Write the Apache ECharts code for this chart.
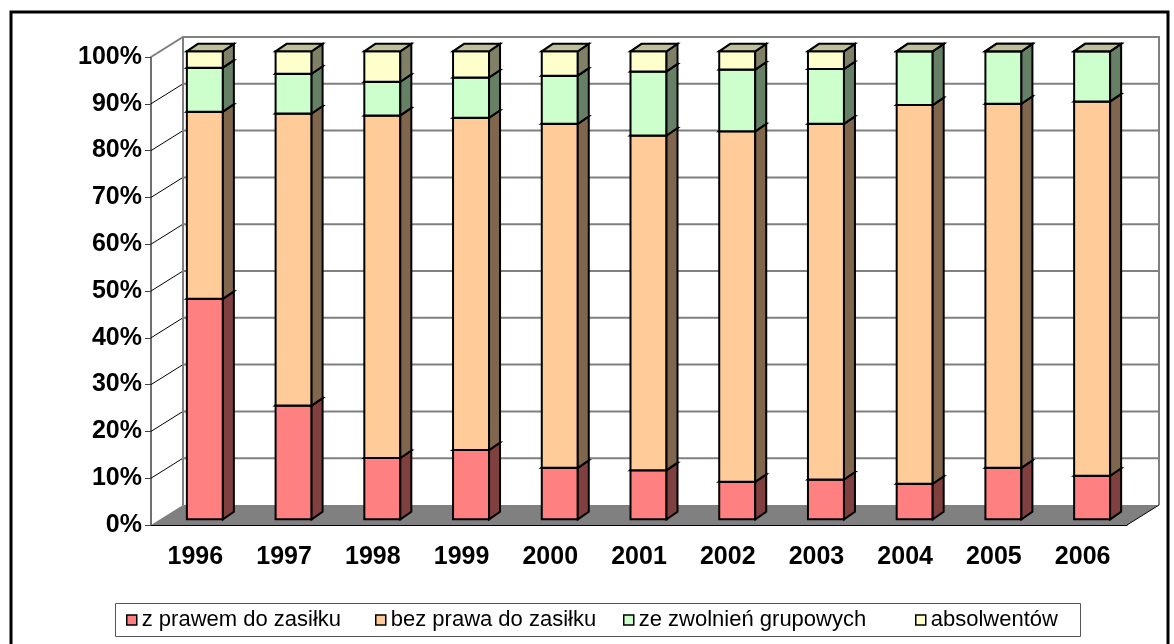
<!DOCTYPE html>
<html>
<head>
<meta charset="utf-8">
<script src="https://cdn.jsdelivr.net/npm/echarts@6/dist/echarts.min.js"></script>
<style>
  html, body { margin: 0; padding: 0; background: #fff; }
  #chart { width: 1174px; height: 644px; }
</style>
</head>
<body>
<div id="chart"></div>
<script>
// Struktura bezrobotnych 1996-2006 (udział procentowy grup)
const years = ['1996', '1997', '1998', '1999', '2000', '2001', '2002', '2003', '2004', '2005', '2006'];
const seriesNames = ['z prawem do zasiłku', 'bez prawa do zasiłku', 'ze zwolnień grupowych', 'absolwentów'];
const zPrawem     = [47.1, 24.3, 13.1, 14.8, 11.0, 10.5,  8.0,  8.5,  7.6, 11.0,  9.3];
const bezPrawa    = [40.0, 62.4, 73.2, 71.0, 73.5, 71.5, 74.9, 76.0, 80.9, 77.8, 80.0];
const zwolnien    = [ 9.4,  8.5,  7.2,  8.6, 10.3, 13.7, 13.2, 11.7, 11.5, 11.2, 10.7];
const absolwentow = [ 3.5,  4.8,  6.5,  5.6,  5.2,  4.3,  3.9,  3.8,  0.0,  0.0,  0.0];
const yTicks = [0, 10, 20, 30, 40, 50, 60, 70, 80, 90, 100];

// face colours: front, side (half shade), top (three-quarter shade)
const palette = [
  { front: '#FF8080', side: '#804040', top: '#BF6060' },
  { front: '#FFCC99', side: '#80664D', top: '#BF9973' },
  { front: '#CCFFCC', side: '#668066', top: '#99BF99' },
  { front: '#FFFFCC', side: '#808066', top: '#BFBF99' }
];

// pseudo-3D geometry (pixels)
const WALL = { dx: 32, dy: -20 };
const BAR = { left: -8.5, width: 36, lift: -5.7, dx: 11, dy: -7.5, line: 2 };

// stacked shares -> [category, start, end] per series, normalised to 100 %
const raw = [zPrawem, bezPrawa, zwolnien, absolwentow];
const stacks = raw.map(() => []);
years.forEach((y, i) => {
  const total = raw.reduce((s, arr) => s + arr[i], 0);
  let acc = 0;
  raw.forEach((arr, k) => {
    const share = arr[i] / total * 100;
    stacks[k].push([i, acc, acc + share]);
    acc += share;
  });
});

function frameItem(params, api) {
  const cs = params.coordSys;
  const x0 = cs.x, x1 = cs.x + cs.width;
  const yFor = v => api.coord([0, v])[1];
  const yTop = yFor(100), yBot = yFor(0);
  const gray = '#808080';
  const kids = [];
  // back wall
  kids.push({ type: 'polygon', shape: { points: [[x0 + WALL.dx, yTop + WALL.dy], [x1 + WALL.dx, yTop + WALL.dy], [x1 + WALL.dx, yBot + WALL.dy], [x0 + WALL.dx, yBot + WALL.dy]] }, style: { fill: '#fff' } });
  // grid lines on the back wall and their links to the value axis
  yTicks.forEach(v => {
    if (v === 0 || v === 100) return;
    const y = yFor(v);
    kids.push({ type: 'line', shape: { x1: x0 + WALL.dx, y1: y + WALL.dy, x2: x1 + WALL.dx, y2: y + WALL.dy }, style: { stroke: gray, lineWidth: 2 } });
    kids.push({ type: 'line', shape: { x1: x0, y1: y, x2: x0 + WALL.dx, y2: y + WALL.dy }, style: { stroke: '#000', lineWidth: 1 } });
  });
  // wall outline
  kids.push({ type: 'polyline', shape: { points: [[x0, yTop], [x0 + WALL.dx, yTop + WALL.dy], [x1 + WALL.dx, yTop + WALL.dy], [x1 + WALL.dx, yBot + WALL.dy]] }, style: { stroke: gray, lineWidth: 2, fill: null } });
  kids.push({ type: 'line', shape: { x1: x0 + WALL.dx, y1: yTop + WALL.dy, x2: x0 + WALL.dx, y2: yBot + WALL.dy }, style: { stroke: gray, lineWidth: 2 } });
  // floor
  kids.push({ type: 'polygon', shape: { points: [[x0, yBot], [x1, yBot], [x1 + WALL.dx, yBot + WALL.dy], [x0 + WALL.dx, yBot + WALL.dy]] }, style: { fill: gray } });
  kids.push({ type: 'line', shape: { x1: x1, y1: yBot, x2: x1 + WALL.dx, y2: yBot + WALL.dy }, style: { stroke: '#000', lineWidth: 1 } });
  return { type: 'group', children: kids };
}

function barRenderer(colors) {
  return function (params, api) {
    const cat = api.value(0);
    const pLo = api.coord([cat, api.value(1)]);
    const pHi = api.coord([cat, api.value(2)]);
    const L = pLo[0] + BAR.left, R = L + BAR.width;
    const yb = pLo[1] + BAR.lift, yt = pHi[1] + BAR.lift;
    const stroke = { stroke: '#000', lineWidth: BAR.line, lineJoin: 'miter' };
    return {
      type: 'group',
      children: [
        { type: 'polygon', shape: { points: [[L, yb], [R, yb], [R, yt], [L, yt]] }, style: Object.assign({ fill: colors.front }, stroke) },
        { type: 'polygon', shape: { points: [[R, yb], [R + BAR.dx, yb + BAR.dy], [R + BAR.dx, yt + BAR.dy], [R, yt]] }, style: Object.assign({ fill: colors.side }, stroke) },
        { type: 'polygon', shape: { points: [[L, yt], [R, yt], [R + BAR.dx, yt + BAR.dy], [L + BAR.dx, yt + BAR.dy]] }, style: Object.assign({ fill: colors.top }, stroke) }
      ]
    };
  };
}

const legendLeft = [126, 375, 623, 915];
const font = 'Liberation Sans, Arial, sans-serif';

const option = {
  animation: false,
  backgroundColor: '#fff',
  grid: { left: 151, right: 47, top: 57, bottom: 119 },
  xAxis: {
    type: 'category',
    data: years,
    axisLine: { lineStyle: { color: '#000', width: 1 } },
    axisTick: { length: 8, lineStyle: { color: '#000' } },
    axisLabel: { fontSize: 25, fontWeight: 'bold', fontFamily: font, color: '#000', margin: 20 }
  },
  yAxis: {
    type: 'value',
    min: 0, max: 100, interval: 10,
    axisLine: { show: true, lineStyle: { color: '#404040', width: 1.5 } },
    axisTick: { show: true, length: 6, lineStyle: { color: '#404040' } },
    splitLine: { show: false },
    axisLabel: { formatter: '{value}%', fontSize: 25, fontWeight: 'bold', fontFamily: font, color: '#000', margin: 9 }
  },
  legend: seriesNames.map((n, i) => ({
    data: [n],
    left: legendLeft[i],
    top: 609,
    padding: 0,
    icon: 'rect',
    itemWidth: 10,
    itemHeight: 10,
    selectedMode: false,
    itemStyle: { borderColor: '#000', borderWidth: 1.5 },
    textStyle: { fontSize: 22, fontFamily: font, color: '#000' }
  })),
  graphic: [
    { type: 'rect', shape: { x: 11, y: 12, width: 1157, height: 700 }, style: { fill: null, stroke: '#000', lineWidth: 3 }, silent: true },
    { type: 'rect', shape: { x: 115.5, y: 603.5, width: 965, height: 33 }, style: { fill: null, stroke: '#555', lineWidth: 1 }, silent: true }
  ],
  series: [
    { type: 'custom', name: 'frame', silent: true, coordinateSystem: 'cartesian2d', renderItem: frameItem, data: [[0, 0]], z: 1 }
  ].concat(seriesNames.map((n, k) => ({
    type: 'custom',
    name: n,
    coordinateSystem: 'cartesian2d',
    renderItem: barRenderer(palette[k]),
    itemStyle: { color: palette[k].front },
    encode: { x: 0, y: [1, 2] },
    data: stacks[k],
    z: 2 + k
  })))
};

const chart = echarts.init(document.getElementById('chart'));
chart.setOption(option);
</script>
</body>
</html>
